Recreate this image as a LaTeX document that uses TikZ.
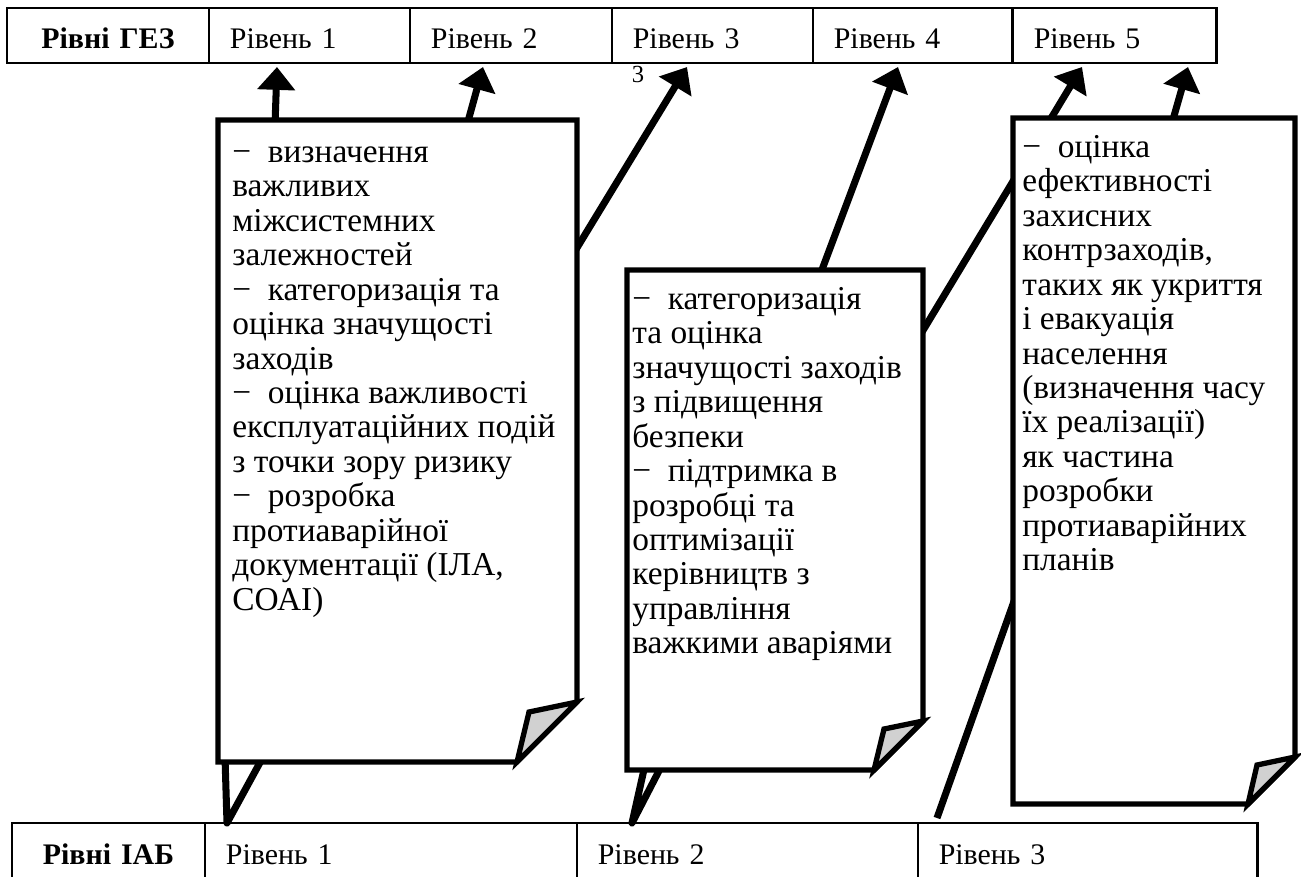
\documentclass[tikz,border=0pt]{standalone}
\usepackage{fontspec}
\setmainfont{Liberation Serif}
\usetikzlibrary{positioning,calc,arrows.meta}
\newcommand{\tire}{−\hspace{0.5em}}

\begin{document}
\begin{tikzpicture}[x=0.02cm,y=-0.02cm,
	font=\fontsize{17}{19.6}\selectfont,
	cell/.style={draw,line width=1.5pt,inner xsep=0.42cm,inner ysep=0pt,outer sep=0pt,align=left,text depth=0pt},
	head/.style={align=center,font=\fontsize{17}{19.6}\selectfont\bfseries},
	ptr/.style={line width=4pt,-{Triangle[width=21pt,length=13pt]}},
	leg/.style={line width=4pt,line join=round,fill=white},
	note/.style={line width=3pt,line join=miter,fill=white},
	fold/.style={line width=3pt,line join=miter,fill=black!18},
	txt/.style={anchor=north west,inner sep=0pt,align=left,font=\fontsize{19}{19.6}\selectfont}]
	\useasboundingbox (0,0) rectangle (1301,876);
	% рівні ГЕЗ
	\node[cell,head,text width=3.2cm,minimum height=1.1cm,text height=15pt,anchor=north west] (g0) at (7,8) {Рівні ГЕЗ};
	\node[cell,text width=3.18cm,minimum height=1.1cm,text height=15pt,right=0pt of g0] (g1) {Рівень 1};
	\node[cell,text width=3.2cm,minimum height=1.1cm,text height=15pt,right=0pt of g1] (g2) {Рівень 2};
	\node[cell,text width=3.18cm,minimum height=1.1cm,text height=15pt,right=0pt of g2] (g3) {Рівень 3};
	\node[cell,text width=3.16cm,minimum height=1.1cm,text height=15pt,right=0pt of g3] (g4) {Рівень 4};
	\node[cell,text width=3.24cm,minimum height=1.1cm,text height=15pt,right=0pt of g4] (g5) {Рівень 5};
	\node[inner sep=0pt,font=\fontsize{14}{16}\selectfont] (s3) at (638,74) {3};
	% рівні ІАБ
	\node[cell,head,text width=3.02cm,minimum height=1.3cm,text height=10.8pt,anchor=north west] (b0) at (12,823) {Рівні ІАБ};
	\node[cell,text width=6.6cm,minimum height=1.3cm,text height=10.8pt,right=0pt of b0] (b1) {Рівень 1};
	\node[cell,text width=5.98cm,minimum height=1.3cm,text height=10.8pt,right=0pt of b1] (b2) {Рівень 2};
	\node[cell,text width=5.96cm,minimum height=1.3cm,text height=10.8pt,right=0pt of b2] (b3) {Рівень 3};
	% points
	\coordinate (t1) at (277,67);
	\coordinate (t2) at (483,67);
	\coordinate (t3) at (687,67);
	\coordinate (t4) at (898,67);
	\coordinate (t5) at (1082,67);
	\coordinate (t6) at (1188,67);
	\coordinate (u1) at (227,823);
	\coordinate (u2) at (632,823);
	\coordinate (u3) at (937,818);
	\coordinate (n1a) at (218,120);
	\coordinate (n1b) at (577,762);
	\coordinate (n2a) at (627,270);
	\coordinate (n2b) at (923,770);
	\coordinate (n3a) at (1013,118);
	\coordinate (n3b) at (1295,804);
	% pointers
	\draw[ptr] ($(n1a)+(57,5)$) -- (t1);
	\draw[ptr] ($(n1a)+(249,5)$) -- (t2);
	\draw[ptr] ($(n1b)+(-61,-414)$) -- (t3);
	\draw[ptr] ($(n2a)+(193,5)$) -- (t4);
	\draw[ptr] ($(n2b)+(-36,-380)$) -- (t5);
	\draw[ptr] ($(n3a)+(159,5)$) -- (t6);
	\draw[leg] ($(n1a |- n1b)+(7,-5)$) -- ($(n1a |- n1b)+(45,-5)$) -- (u1) -- cycle;
	\draw[leg] ($(n2a |- n2b)+(18,-5)$) -- ($(n2a |- n2b)+(35,-5)$) -- (u2) -- cycle;
	\draw[line width=4pt] ($(n3a)+(37,382)$) -- (u3);
	% notes
	\draw[note] (n1a) -- (n1a -| n1b) -- ($(n1b)+(0,-60)$) -- ($(n1b)+(-60,0)$) -- (n1a |- n1b) -- cycle;
	\draw[fold] ($(n1b)+(0,-60)$) -- ($(n1b)+(-48,-50)$) -- ($(n1b)+(-60,0)$) -- cycle;
	\draw[note] (n2a) -- (n2a -| n2b) -- ($(n2b)+(0,-49)$) -- ($(n2b)+(-49,0)$) -- (n2a |- n2b) -- cycle;
	\draw[fold] ($(n2b)+(0,-49)$) -- ($(n2b)+(-39,-41)$) -- ($(n2b)+(-49,0)$) -- cycle;
	\draw[note] (n3a) -- (n3a -| n3b) -- ($(n3b)+(0,-47)$) -- ($(n3b)+(-47,0)$) -- (n3a |- n3b) -- cycle;
	\draw[fold] ($(n3b)+(0,-47)$) -- ($(n3b)+(-38,-39)$) -- ($(n3b)+(-47,0)$) -- cycle;
	% texts
	\node[txt] (x1) at (232,138) {\strut\tire визначення\\ важливих\\ міжсистемних\\ залежностей\\ \tire категоризація та\\ оцінка значущості\\ заходів\\ \tire оцінка важливості\\ експлуатаційних подій\\ з точки зору ризику\\ \tire розробка\\ протиаварійної\\ документації (ІЛА,\\ СОАІ)};
	\node[txt] (x2) at (632,285) {\strut\tire категоризація\\ та оцінка\\ значущості заходів\\ з підвищення\\ безпеки\\ \tire підтримка в\\ розробці та\\ оптимізації\\ керівництв з\\ управління\\ важкими аваріями};
	\node[txt] (x3) at (1022,133) {\strut\tire оцінка\\ ефективності\\ захисних\\ контрзаходів,\\ таких як укриття\\ і евакуація\\ населення\\ (визначення часу\\ їх реалізації)\\ як частина\\ розробки\\ протиаварійних\\ планів};
\end{tikzpicture}
\end{document}
